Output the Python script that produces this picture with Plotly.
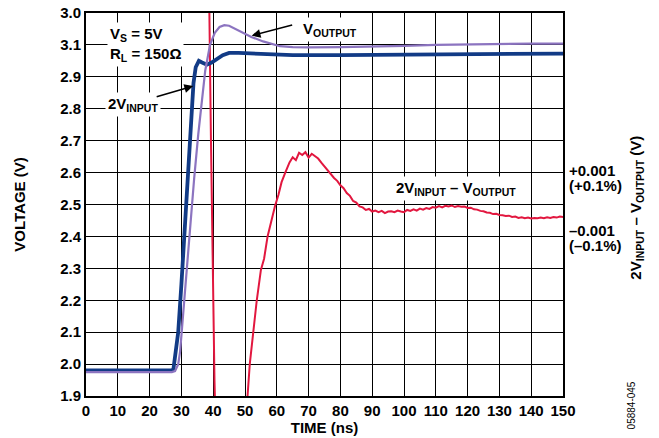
import plotly.graph_objects as go

# ---- data ----
t_in = [0, 5, 10, 15, 20, 25, 27, 27.5, 28, 29, 30, 31, 32, 33, 33.8, 34.5, 35.5, 36.5, 38, 39.5, 41, 43, 45, 48, 55, 65, 80, 100, 120, 140, 150]
v_in = [1.98, 1.98, 1.98, 1.98, 1.98, 1.98, 1.98, 1.985, 2.02, 2.10, 2.25, 2.41, 2.57, 2.72, 2.88, 2.93, 2.95, 2.945, 2.938, 2.945, 2.955, 2.968, 2.975, 2.975, 2.972, 2.968, 2.968, 2.970, 2.972, 2.974, 2.973]

t_out = [0, 10, 20, 27, 28, 29, 29.6, 31, 32.5, 34, 35.3, 36.5, 37.5, 39, 40.5, 42, 43.5, 45, 46.5, 48, 50.5, 52, 55.7, 58, 61, 65, 70, 80, 90, 100, 110, 120, 130, 140, 150]
v_out = [1.975, 1.975, 1.975, 1.975, 1.978, 2.0, 2.04, 2.22, 2.41, 2.58, 2.72, 2.83, 2.92, 3.0, 3.038, 3.056, 3.062, 3.06, 3.052, 3.045, 3.032, 3.025, 3.011, 3.004, 2.996, 2.993, 2.992, 2.993, 2.994, 2.997, 3.0, 3.002, 3.004, 3.004, 3.004]

t_diff = [38.4, 38.8, 39.3, 39.8, 40.4, 41.0, 45.0, 50.0, 50.8, 51.5, 52.6, 53.7, 55.0, 56.0, 57.1, 58.2, 59.4, 60.5, 61.5, 62.6, 63.5,
          64, 65, 66, 67, 68, 69, 70, 71, 72, 73, 74, 75, 76, 77, 78, 79, 80, 81, 82, 83, 84, 85, 86, 87, 88, 89,
          90, 91, 92, 93, 94, 95, 96, 97, 98, 99, 100, 101, 102, 103, 104, 105, 106, 107, 108, 109,
          110, 111, 112, 113, 114, 115, 116, 117, 118, 119, 120, 121, 122, 123, 124, 125, 126, 127, 128, 129,
          130, 131, 132, 133, 134, 135, 136, 137, 138, 139, 140, 141, 142, 143, 144, 145, 146, 147, 148, 149, 150]
v_diff = [3.3, 3.1, 2.7, 2.3, 1.95, 1.7, 1.2, 1.7, 1.9, 2.0, 2.106, 2.2, 2.295, 2.33, 2.40, 2.45, 2.494, 2.53, 2.57, 2.598, 2.62,
          2.632, 2.648, 2.639, 2.662, 2.655, 2.664, 2.647, 2.659, 2.651, 2.644, 2.631, 2.619, 2.606, 2.596, 2.583, 2.574, 2.560, 2.551, 2.536, 2.527, 2.511, 2.506, 2.494, 2.491, 2.483, 2.486,
          2.478, 2.481, 2.476, 2.480, 2.473, 2.478, 2.479, 2.476, 2.481, 2.478, 2.476, 2.483, 2.480, 2.485, 2.481, 2.487, 2.484, 2.489, 2.486, 2.492,
          2.490, 2.495, 2.491, 2.496, 2.494, 2.497, 2.492, 2.495, 2.493, 2.494, 2.489, 2.490, 2.485, 2.484, 2.480, 2.479, 2.475, 2.474, 2.470, 2.471,
          2.467, 2.466, 2.464, 2.465, 2.461, 2.462, 2.458, 2.460, 2.457, 2.459, 2.456, 2.458, 2.457, 2.459, 2.457, 2.460, 2.458, 2.461, 2.459, 2.462, 2.461]

x_ticks = [0, 10, 20, 30, 40, 50, 60, 70, 80, 90, 100, 110, 120, 130, 140, 150]
y_tickvals = [1.9, 2.0, 2.1, 2.2, 2.3, 2.4, 2.5, 2.6, 2.7, 2.8, 2.9, 3.0, 3.1]
y_ticktext = ["1.9", "2.0", "2.1", "2.2", "2.3", "2.4", "2.5", "2.6", "2.7", "2.8", "2.9", "3.1", "3.0"]

FONT = "Liberation Sans"
BLUE = "#123b86"
PURPLE = "#8c74c0"
RED = "#e2173f"

fig = go.Figure()
fig.add_trace(go.Scatter(x=t_diff, y=v_diff, mode="lines", line=dict(color=RED, width=2), hoverinfo="skip"))
fig.add_trace(go.Scatter(x=t_in, y=v_in, mode="lines", line=dict(color=BLUE, width=3.8), hoverinfo="skip"))
fig.add_trace(go.Scatter(x=t_out, y=v_out, mode="lines", line=dict(color=PURPLE, width=2.2), hoverinfo="skip"))

bold = dict(family=FONT, size=15, color="black", weight="bold")

fig.update_layout(
    width=659, height=438,
    margin=dict(l=86, r=96, t=13, b=42, autoexpand=False),
    paper_bgcolor="white", plot_bgcolor="white",
    showlegend=False,
    font=dict(family=FONT, color="black"),
    xaxis=dict(range=[0, 150], tickvals=x_ticks, showgrid=True, gridcolor="black", gridwidth=1.4,
               showline=True, linecolor="black", linewidth=2, mirror=True, zeroline=False, automargin=False,
               ticks="", tickfont=bold, title=dict(text="TIME (ns)", font=bold, standoff=0)),
    yaxis=dict(range=[1.9, 3.1], tickvals=y_tickvals, ticktext=y_ticktext, showgrid=True, gridcolor="black", gridwidth=1.4,
               showline=True, linecolor="black", linewidth=2, mirror=True, zeroline=False, automargin=False,
               ticks="", tickfont=bold, title=dict(text="VOLTAGE (V)", font=bold, standoff=31)),
)

ann = []
ann.append(dict(x=6.5, y=3.0, xref="x", yref="y", xanchor="left", yanchor="middle", align="left",
                text="V<sub>S</sub> = 5V<br>R<sub>L</sub> = 150Ω", showarrow=False, font=bold, bgcolor="white", borderpad=2))
ann.append(dict(x=14.8, y=2.812, xref="x", yref="y", xanchor="center", yanchor="middle",
                text="2V<sub>INPUT</sub>", showarrow=False, font=bold, bgcolor="white", borderpad=2))
ann.append(dict(x=76.7, y=3.048, xref="x", yref="y", xanchor="center", yanchor="middle",
                text="V<sub>OUTPUT</sub>", showarrow=False, font=bold, bgcolor="white", borderpad=2))
ann.append(dict(x=116.3, y=2.551, xref="x", yref="y", xanchor="center", yanchor="middle",
                text="2V<sub>INPUT</sub> – V<sub>OUTPUT</sub>", showarrow=False, font=bold, bgcolor="white", borderpad=2))
# arrows
ann.append(dict(x=33.7, y=2.871, xref="x", yref="y", ax=-38, ay=11, text="", showarrow=True,
                arrowhead=2, arrowsize=1.1, arrowwidth=1.6, arrowcolor="black", standoff=0))
ann.append(dict(x=52.1, y=3.029, xref="x", yref="y", ax=42, ay=-11, text="", showarrow=True,
                arrowhead=2, arrowsize=1.1, arrowwidth=1.6, arrowcolor="black", standoff=0))
# right-hand scale labels
for txt, yv in [("+0.001", 2.608), ("(+0.1%)", 2.558), ("–0.001", 2.417), ("(–0.1%)", 2.370)]:
    ann.append(dict(x=1, y=yv, xref="paper", yref="y", xanchor="left", yanchor="middle", xshift=4,
                    text=txt, showarrow=False, font=bold))
ann.append(dict(x=1.155, y=2.49, xref="paper", yref="y", xanchor="center", yanchor="middle", textangle=-90,
                text="2V<sub>INPUT</sub> – V<sub>OUTPUT</sub> (V)", showarrow=False, font=bold))
ann.append(dict(x=1.143, y=-0.024, xref="paper", yref="paper", xanchor="center", yanchor="middle", textangle=-90,
                text="05884-045", showarrow=False, font=dict(family=FONT, size=10, color="black")))
fig.update_layout(annotations=ann)

fig.write_html("out.html", config={"displayModeBar": False},
               post_script="document.body.style.margin='0';document.body.style.padding='0';document.body.style.overflow='hidden';")
